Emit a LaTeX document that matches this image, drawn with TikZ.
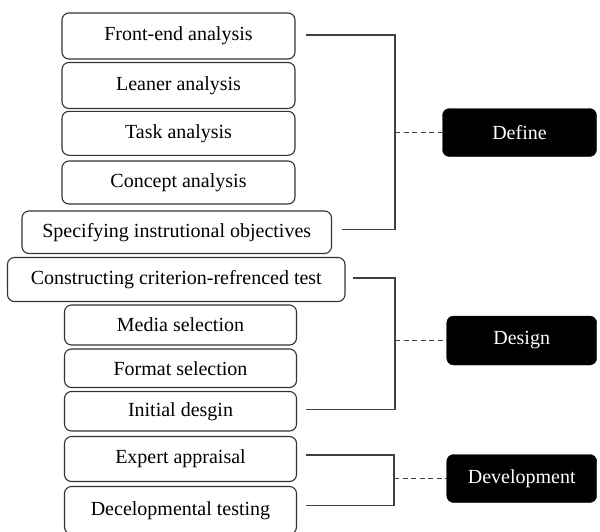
\documentclass[tikz,border=0pt]{standalone}
\usepackage{fontspec}
\setmainfont{Liberation Serif}
\begin{document}
\begin{tikzpicture}[x=1pt,y=-1pt,
  stage/.style={draw=black!80,line width=1.1pt,rounded corners=7pt,fill=white,
    font=\fontsize{20}{23}\selectfont,inner sep=0pt,anchor=center},
  phase/.style={fill=black,draw=black,rounded corners=7pt,text=white,
    font=\fontsize{20}{23}\selectfont,inner sep=0pt,anchor=center},
  link/.style={draw=black!75,line width=1.1pt},
  dlink/.style={draw=black!75,line width=1.1pt,dash pattern=on 5pt off 3.5pt}]
\useasboundingbox[fill=white] (0,0) rectangle (600,531);
% left column
\node[stage,minimum width=233pt,minimum height=46pt] (fe) at (178.5,36) {Front-end analysis};
\node[stage,minimum width=233pt,minimum height=46pt] (la) at (178.5,85.5) {Leaner analysis};
\node[stage,minimum width=233pt,minimum height=44pt] (ta) at (178.5,133.3) {Task analysis};
\node[stage,minimum width=233pt,minimum height=43pt] (ca) at (178.5,182.5) {Concept analysis};
\node[stage,minimum width=309.5pt,minimum height=42.5pt] (sp) at (176.75,232.25) {Specifying instrutional objectives};
\node[stage,minimum width=337.5pt,minimum height=44pt] (co) at (176.25,279.5) {Constructing criterion-refrenced test};
\node[stage,minimum width=232pt,minimum height=40pt] (me) at (180.5,325) {Media selection};
\node[stage,minimum width=232pt,minimum height=38.5pt] (fo) at (180.5,368.25) {Format selection};
\node[stage,minimum width=232pt,minimum height=39.5pt] (in) at (180.5,411.25) {Initial desgin};
\node[stage,minimum width=232pt,minimum height=45pt] (ex) at (180.5,459) {Expert appraisal};
\node[stage,minimum width=232pt,minimum height=47.5pt] (de) at (180.5,510.25) {Decelopmental testing};
% phases
\node[phase,minimum width=154pt,minimum height=48pt] (define) at (519.5,132.5) {Define};
\node[phase,minimum width=150pt,minimum height=49pt] (design) at (521.7,340.5) {Design};
\node[phase,minimum width=150pt,minimum height=48pt] (devel) at (521.7,478.5) {Development};
% bracket columns
\coordinate (bx1) at (395,0);
\coordinate (bx2) at (395,0);
\coordinate (bx3) at (394,0);
% define bracket
\draw[link] ([xshift=10pt,yshift=1pt]fe.east) -| ([yshift=3pt]bx1 |- sp.east) -- ([xshift=10pt,yshift=3pt]sp.east);
\draw[dlink] (bx1 |- define.west) -- (define.west);
% design bracket
\draw[link] ([xshift=7.5pt,yshift=1.5pt]co.east) -| ([yshift=2pt]bx2 |- in.east) -- ([xshift=8.5pt,yshift=2pt]in.east);
\draw[dlink] (bx2 |- design.west) -- (design.west);
% development bracket
\draw[link] ([xshift=8.5pt,yshift=4pt]ex.east) -| ([yshift=5pt]bx3 |- de.east) -- ([xshift=8.5pt,yshift=5pt]de.east);
\draw[dlink] (bx3 |- devel.west) -- (devel.west);
\end{tikzpicture}
\end{document}
